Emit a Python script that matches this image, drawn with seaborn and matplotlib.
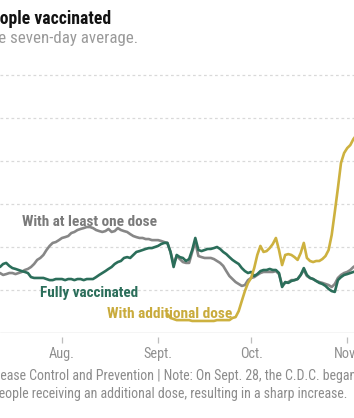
import matplotlib
matplotlib.use("Agg")
import matplotlib.pyplot as plt
import matplotlib.dates as mdates
import pandas as pd
import seaborn as sns
from matplotlib import font_manager

# Seven-day average of people vaccinated per day (thousands), 2021
start_date = "2021-07-12"
at_least_one_dose = [
    279, 270, 274, 279, 279, 274, 279, 284, 293, 298,
    307, 321, 340, 349, 363, 386, 405, 419, 423, 432,
    442, 446, 451, 465, 470, 479, 484, 488, 493, 493,
    488, 479, 474, 470, 474, 484, 470, 474, 488, 479,
    474, 470, 460, 451, 446, 442, 442, 437, 437, 432,
    432, 432, 428, 423, 419, 377, 321, 358, 344, 330,
    326, 326, 377, 423, 358, 353, 349, 349, 349, 344,
    335, 326, 312, 288, 265, 251, 237, 228, 219, 223,
    246, 256, 260, 270, 279, 284, 284, 284, 284, 288,
    274, 223, 233, 237, 246, 246, 251, 270, 293, 265,
    256, 251, 242, 237, 233, 228, 223, 214, 228, 256,
    270, 279, 284, 293, 307, 316,
]
fully_vaccinated = [
    307, 321, 326, 312, 302, 298, 293, 288, 284, 279,
    260, 256, 256, 256, 256, 251, 246, 246, 251, 251,
    251, 246, 251, 251, 246, 251, 251, 246, 251, 251,
    251, 260, 270, 279, 288, 298, 307, 321, 330, 335,
    349, 353, 349, 363, 377, 381, 386, 391, 395, 395,
    400, 405, 414, 419, 419, 377, 307, 363, 353, 349,
    335, 344, 386, 442, 386, 381, 386, 391, 391, 395,
    400, 391, 377, 367, 353, 340, 330, 321, 302, 288,
    279, 284, 265, 274, 288, 293, 293, 298, 293, 293,
    279, 214, 237, 233, 242, 246, 251, 270, 302, 270,
    256, 251, 242, 233, 228, 219, 205, 195, 191, 246,
    260, 270, 274, 279, 284, 288,
]
additional_start = "2021-09-04"
additional_dose = [
    88, 70, 65, 60, 60, 60, 60, 60, 56, 56,
    56, 56, 56, 56, 56, 56, 60, 60, 60, 60,
    60, 70, 74, 102, 149, 195, 233, 256, 302, 363,
    405, 377, 381, 395, 414, 442, 386, 316, 363, 367,
    363, 353, 340, 372, 419, 349, 335, 330, 335, 335,
    344, 358, 386, 456, 563, 674, 791, 837, 860, 874,
    902, 921,
]
month_ticks = ["2021-08-01", "2021-09-01", "2021-10-01", "2021-11-01"]
month_labels = ["Aug.", "Sept.", "Oct.", "Nov."]
grid_values = [200, 400, 600, 800, 1000, 1200]

GRAY = "#878787"
GREEN = "#2b6e5a"
GOLD = "#cdb13f"

sns.set_style("white")
available = {f.name for f in font_manager.fontManager.ttflist}
family = "Liberation Sans"
for cand in ["Liberation Sans Narrow", "DejaVu Sans Condensed", "Roboto Condensed"]:
    if cand in available:
        family = cand
        break
plt.rcParams["font.family"] = [family, "DejaVu Sans"]

W, H = 354, 418
fig = plt.figure(figsize=(W / 100, H / 100), dpi=100)
renderer = fig.canvas.get_renderer()


def fy(py):
    return (H - py) / H


def fx(px):
    return px / W


def text_width(s, size, weight="normal"):
    t = fig.text(0, 0, s, fontsize=size, fontweight=weight)
    w = t.get_window_extent(renderer).width
    t.remove()
    return w


def fit_size(s, target_px, weight="normal"):
    # font size that makes the string span target_px
    return 10 * target_px / text_width(s, 10, weight)


# axes: baseline (0) at y=333px, top edge at y=60px
ax = fig.add_axes([0, fy(333), 1, (333 - 60) / H])

df = pd.DataFrame({
    "date": pd.date_range(start_date, periods=len(at_least_one_dose)),
    "one": at_least_one_dose,
    "full": fully_vaccinated,
})
df_add = pd.DataFrame({
    "date": pd.date_range(additional_start, periods=len(additional_dose)),
    "add": additional_dose,
})

for g in grid_values:
    ax.axhline(g, color="#d9d9d9", lw=0.9, ls=(0, (2.2, 2.2)), zorder=0)
ax.axhline(0, color="#cfcfcf", lw=1, zorder=0)

sns.lineplot(data=df, x="date", y="one", color=GRAY, lw=1.9, ax=ax)
sns.lineplot(data=df, x="date", y="full", color=GREEN, lw=1.9, ax=ax)
sns.lineplot(data=df_add, x="date", y="add", color=GOLD, lw=1.9, ax=ax)

x0 = mdates.date2num(pd.Timestamp(start_date))
ax.set_xlim(x0, x0 + 354 / 3.1)
ax.set_ylim(0, (333 - 60) * 200 / 43)

for s in ax.spines.values():
    s.set_visible(False)
ax.spines["bottom"].set_position(("outward", 3))
ax.set_yticks([])
ax.set_xticks(pd.to_datetime(month_ticks))
ax.set_xticklabels(month_labels)
tick_size = fit_size("Sept.", 29)
ax.tick_params(axis="x", length=4, width=0.9, color="#bdbdbd", pad=3,
               labelsize=tick_size, labelcolor="#8f8f8f", bottom=True)
ax.set_xlabel("")
ax.set_ylabel("")
ax.patch.set_alpha(0)

# line labels
labels = [
    ("With at least one dose", 22, 226, 135, "#7a7a7a"),
    ("Fully vaccinated", 40, 297, 98, GREEN),
    ("With additional dose", 107, 318, 126, "#c9ab3c"),
]
for txt, lx, ly, lw_px, col in labels:
    fig.text(fx(lx), fy(ly), txt, color=col, fontweight="bold",
             fontsize=fit_size(txt, lw_px, "bold"), va="baseline", ha="left")

# title block, cropped on the left
title_size = fit_size("ople vaccinated", 111, "bold")
fig.text(fx(111), fy(24), "Number of people vaccinated", fontsize=title_size,
         fontweight="bold", color="#121212", ha="right", va="baseline")
sub_size = fit_size("e seven-day average.", 138)
fig.text(fx(138), fy(43), "Shown is the seven-day average.", fontsize=sub_size,
         color="#9a9a9a", ha="right", va="baseline")

# footnote, cropped on both sides
note_size = fit_size("eople receiving an additional dose, resulting in a sharp increase.", 347)
note1_hidden = "Source: Centers for Dis"
note1 = "Source: Centers for Disease Control and Prevention | Note: On Sept. 28, the C.D.C. began counting"
shift = text_width(note1_hidden, note_size)
fig.text(-shift / W, fy(380), note1, fontsize=note_size, color="#8c8c8c",
         ha="left", va="baseline")
fig.text(fx(347), fy(398), "boosters for people receiving an additional dose, resulting in a sharp increase.",
         fontsize=note_size, color="#8c8c8c", ha="right", va="baseline")

fig.savefig("out.png", dpi=100)
